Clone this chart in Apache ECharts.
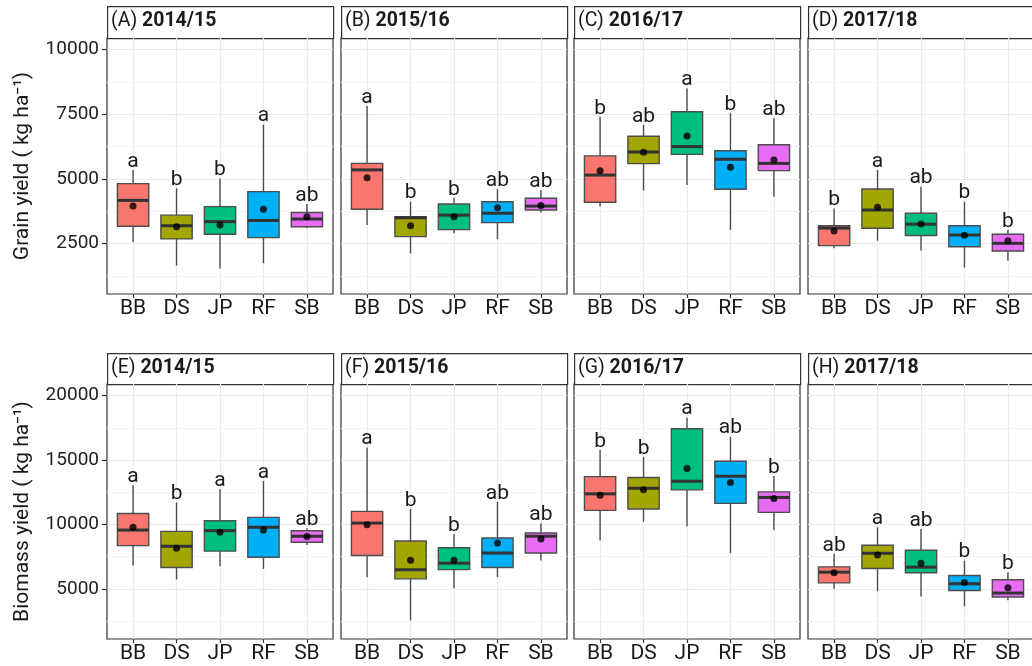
<!DOCTYPE html>
<html>
<head>
<meta charset="utf-8">
<title>Grain and biomass yield</title>
<script src="https://cdn.jsdelivr.net/npm/echarts@6/dist/echarts.min.js"></script>
<style>
  html, body { margin: 0; padding: 0; background: #fff; }
  #chart { width: 1032px; height: 666px; }
</style>
</head>
<body>
<div id="chart"></div>
<script>
var categories = ['BB', 'DS', 'JP', 'RF', 'SB'];
var boxColors = ['#F8766D', '#A3A500', '#00BF7D', '#00B0F6', '#E76BF3'];
var seasons = ['2014/15', '2015/16', '2016/17', '2017/18'];
var panelTags = ['(A)', '(B)', '(C)', '(D)', '(E)', '(F)', '(G)', '(H)'];

// each row: [min, Q1, median, Q3, max] for BB, DS, JP, RF, SB
var grain1415 = [[2550, 3170, 4170, 4820, 5350], [1650, 2680, 3190, 3600, 4640], [1540, 2860, 3350, 3930, 5020], [1740, 2730, 3390, 4510, 7100], [3100, 3150, 3450, 3700, 4030]];
var grain1415Mean = [3950, 3150, 3220, 3830, 3540];
var grain1415Letters = ['a', 'b', 'b', 'a', 'ab'];

var grain1516 = [[3220, 3830, 5350, 5600, 7820], [2120, 2770, 3500, 3540, 4120], [2900, 3040, 3600, 4030, 4270], [2670, 3310, 3670, 4120, 4600], [3700, 3800, 3950, 4250, 4570]];
var grain1516Mean = [5050, 3190, 3540, 3890, 3970];
var grain1516Letters = ['a', 'b', 'b', 'ab', 'ab'];

var grain1617 = [[3930, 4100, 5150, 5890, 7400], [4550, 5590, 6040, 6650, 7090], [4770, 5950, 6250, 7600, 8500], [3030, 4600, 5760, 6090, 7540], [4310, 5320, 5600, 6320, 7350]];
var grain1617Mean = [5320, 6030, 6660, 5450, 5730];
var grain1617Letters = ['b', 'ab', 'a', 'b', 'ab'];

var grain1718 = [[2320, 2420, 3100, 3190, 3860], [2610, 3090, 3800, 4610, 5350], [2230, 2810, 3250, 3670, 4700], [1570, 2380, 2830, 3190, 4120], [1840, 2210, 2510, 2860, 3030]];
var grain1718Mean = [2990, 3900, 3260, 2820, 2610];
var grain1718Letters = ['b', 'a', 'ab', 'b', 'b'];

var biomass1415 = [[6800, 8350, 9560, 10850, 13040], [5720, 6650, 8300, 9460, 11700], [6750, 7920, 9510, 10280, 12730], [6550, 7450, 9770, 10540, 13370], [8400, 8610, 9080, 9510, 9690]];
var biomass1415Mean = [9770, 8150, 9380, 9560, 9050];
var biomass1415Letters = ['a', 'b', 'a', 'a', 'ab'];

var biomass1516 = [[5900, 7580, 10100, 11010, 15960], [2550, 5770, 6470, 8710, 11190], [5050, 6490, 6990, 8190, 9250], [5900, 6650, 7780, 8940, 11750], [7190, 7780, 9080, 9330, 10080]];
var biomass1516Mean = [9970, 7220, 7220, 8560, 8870];
var biomass1516Letters = ['a', 'b', 'b', 'ab', 'ab'];

var biomass1617 = [[8740, 11090, 12370, 13710, 15770], [10200, 11190, 12810, 13640, 15230], [9850, 12680, 13350, 17430, 18280], [7780, 11630, 13740, 14900, 16810], [9560, 10930, 12090, 12520, 13760]];
var biomass1617Mean = [12270, 12680, 14330, 13250, 12010];
var biomass1617Letters = ['b', 'b', 'a', 'ab', 'b'];

var biomass1718 = [[5000, 5460, 6290, 6700, 7710], [4820, 6570, 7760, 8380, 9770], [4400, 6240, 6680, 7990, 9640], [3630, 4870, 5390, 6030, 7190], [4100, 4360, 4670, 5700, 6290]];
var biomass1718Mean = [6250, 7630, 6990, 5490, 5080];
var biomass1718Letters = ['ab', 'a', 'ab', 'b', 'b'];

var grainTicks = [2500, 5000, 7500, 10000];
var grainMinorTicks = [1250, 3750, 6250, 8750];
var biomassTicks = [5000, 10000, 15000, 20000];
var biomassMinorTicks = [2500, 7500, 12500, 17500];

var FONT = 'Roboto, "Liberation Sans", sans-serif';
var INK = '#1a1a1a';

var rows = [
    { top: 38, height: 256, stripTop: 6, min: 550, max: 10450, ticks: grainTicks, minor: grainMinorTicks, name: 'Grain yield ( kg ha⁻¹)',
      boxes: [grain1415, grain1516, grain1617, grain1718], means: [grain1415Mean, grain1516Mean, grain1617Mean, grain1718Mean],
      letters: [grain1415Letters, grain1516Letters, grain1617Letters, grain1718Letters] },
    { top: 384, height: 255, stripTop: 353, min: 1100, max: 20900, ticks: biomassTicks, minor: biomassMinorTicks, name: 'Biomass yield ( kg ha⁻¹)',
      boxes: [biomass1415, biomass1516, biomass1617, biomass1718], means: [biomass1415Mean, biomass1516Mean, biomass1617Mean, biomass1718Mean],
      letters: [biomass1415Letters, biomass1516Letters, biomass1617Letters, biomass1718Letters] }
];
var colLeft = [107, 341, 574, 808];
var panelWidth = 226;

function renderBox(params, api) {
    var x = api.value(0);
    var lo = api.coord([x, api.value(1)]);
    var q1 = api.coord([x, api.value(2)]);
    var md = api.coord([x, api.value(3)]);
    var q3 = api.coord([x, api.value(4)]);
    var hi = api.coord([x, api.value(5)]);
    var w = api.size([0.72, 0])[0];
    var cx = md[0];
    var edge = { stroke: '#4d4d4d', lineWidth: 1.4 };
    return {
        type: 'group',
        children: [
            { type: 'line', shape: { x1: cx, y1: hi[1], x2: cx, y2: q3[1] }, style: edge },
            { type: 'line', shape: { x1: cx, y1: q1[1], x2: cx, y2: lo[1] }, style: edge },
            { type: 'rect', shape: { x: cx - w / 2, y: q3[1], width: w, height: q1[1] - q3[1] },
              style: { fill: boxColors[api.value(6)], stroke: '#4d4d4d', lineWidth: 1.4 } },
            { type: 'line', shape: { x1: cx - w / 2, y1: md[1], x2: cx + w / 2, y2: md[1] }, style: { stroke: '#333', lineWidth: 3 } }
        ]
    };
}

// significance letter sitting just above the upper whisker
function makeLetterRenderer(letters) {
    return function (params, api) {
        var p = api.coord([api.value(0), api.value(1)]);
        return {
            type: 'text',
            x: p[0], y: p[1] + 2,
            style: {
                text: letters[params.dataIndex], fill: INK,
                fontSize: 21, fontFamily: FONT,
                align: 'center', verticalAlign: 'bottom'
            }
        };
    };
}

var grids = [], xAxes = [], yAxes = [], series = [], graphics = [];

rows.forEach(function (row, r) {
    for (var c = 0; c < 4; c++) {
        var g = grids.length;
        var left = colLeft[c];
        grids.push({
            left: left, top: row.top, width: panelWidth, height: row.height,
            show: true, backgroundColor: '#fff', borderColor: '#333', borderWidth: 1.2,
            outerBoundsMode: 'none', containLabel: false
        });
        xAxes.push({
            gridIndex: g, type: 'value', min: 0.4, max: 5.6,
            axisLine: { show: false },
            axisTick: { show: true, length: 4, customValues: [1, 2, 3, 4, 5], lineStyle: { color: '#333', width: 1.2 } },
            axisLabel: { show: true, customValues: [1, 2, 3, 4, 5], margin: 4, fontSize: 21, color: INK, fontFamily: FONT,
                formatter: function (v) { return categories[Math.round(v) - 1]; } },
            splitLine: { show: true, lineStyle: { color: '#EBEBEB', width: 1.2 } }
        });
        var first = c === 0;
        yAxes.push({
            gridIndex: g, type: 'value', min: row.min, max: row.max, position: 'left',
            axisLine: { show: false },
            axisTick: { show: first, length: 5, customValues: row.ticks, lineStyle: { color: '#333', width: 1.2 } },
            axisLabel: { show: first, customValues: row.ticks, margin: 8, fontSize: 19, color: '#222', fontFamily: FONT,
                formatter: function (v) { return String(v); } },
            splitLine: { show: true, lineStyle: { color: '#EBEBEB', width: 1.2 } },
            name: first ? row.name : '', nameLocation: 'middle', nameRotate: 90, nameGap: 74,
            nameTextStyle: { fontSize: 21, color: INK, fontFamily: FONT }
        });
        yAxes.push({
            gridIndex: g, type: 'value', min: row.min, max: row.max, position: 'right',
            axisLine: { show: false },
            axisTick: { show: false, customValues: row.minor },
            axisLabel: { show: false, customValues: row.minor },
            splitLine: { show: true, lineStyle: { color: '#F4F4F4', width: 1 } }
        });
        var ya = yAxes.length - 2;
        var box = row.boxes[c], mean = row.means[c], letters = row.letters[c];
        series.push({
            type: 'custom', xAxisIndex: g, yAxisIndex: ya, renderItem: renderBox, silent: true, z: 3,
            encode: { x: 0, y: [1, 2, 3, 4, 5] },
            data: box.map(function (b, i) { return [i + 1].concat(b).concat([i]); })
        });
        series.push({
            type: 'scatter', xAxisIndex: g, yAxisIndex: ya, silent: true, z: 4,
            symbol: 'circle', symbolSize: 7, itemStyle: { color: '#000' },
            data: mean.map(function (m, i) { return [i + 1, m]; })
        });
        series.push({
            type: 'custom', xAxisIndex: g, yAxisIndex: ya, silent: true, z: 5,
            renderItem: makeLetterRenderer(letters),
            encode: { x: 0, y: 1 },
            data: box.map(function (b, i) { return [i + 1, b[4]]; })
        });
        // strip above the panel
        graphics.push({
            type: 'rect', left: left, top: row.stripTop,
            shape: { x: 0, y: 0, width: panelWidth, height: row.top - row.stripTop },
            style: { fill: '#fff', stroke: '#333', lineWidth: 1.2 }
        });
        graphics.push({
            type: 'text', left: left + 4, top: row.stripTop + 5,
            style: {
                text: '{n|' + panelTags[r * 4 + c] + ' }{b|' + seasons[c] + '}',
                rich: {
                    n: { fontSize: 19.5, fontFamily: FONT, fill: INK },
                    b: { fontSize: 19.5, fontWeight: 'bold', fontFamily: FONT, fill: INK }
                }
            }
        });
    }
});

var chart = echarts.init(document.getElementById('chart'));
chart.setOption({
    animation: false,
    backgroundColor: '#fff',
    grid: grids,
    xAxis: xAxes,
    yAxis: yAxes,
    series: series,
    graphic: graphics
});
</script>
</body>
</html>
